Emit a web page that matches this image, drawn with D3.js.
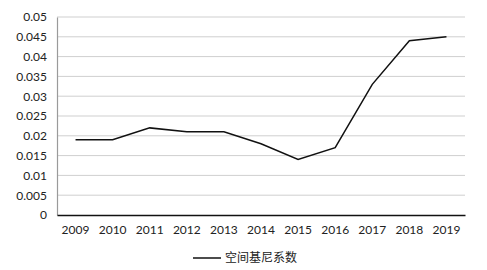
<!DOCTYPE html>
<html>
<head>
<meta charset="utf-8">
<script src="https://cdn.jsdelivr.net/npm/d3@7"></script>
<style>
  body { margin: 0; background: #fff; }
  text { font-family: Lato, "Noto Sans CJK SC", sans-serif; fill: #222; }
</style>
</head>
<body>
<div id="chart"></div>
<script>
var years = ['2009','2010','2011','2012','2013','2014','2015','2016','2017','2018','2019'];
var gini = [0.019, 0.019, 0.022, 0.021, 0.021, 0.018, 0.014, 0.017, 0.033, 0.044, 0.045];
var yTicks = [0, 0.005, 0.01, 0.015, 0.02, 0.025, 0.03, 0.035, 0.04, 0.045, 0.05];
var seriesName = '空间基尼系数';

var chart_width = 487, chart_height = 270;
var plotLeft = 57, plotRight = 465, plotTop = 17, plotBottom = 215;

var svg = d3.select('#chart').append('svg')
    .attr('width', chart_width)
    .attr('height', chart_height);

var x = d3.scaleBand().domain(years).range([plotLeft, plotRight]);
var y = d3.scaleLinear().domain([0, 0.05]).range([plotBottom, plotTop]);

// gridlines
svg.append('g')
  .selectAll('line')
  .data(yTicks.slice(1))
  .enter()
  .append('line')
  .attr('x1', plotLeft)
  .attr('x2', plotRight)
  .attr('y1', function(d){ return y(d); })
  .attr('y2', function(d){ return y(d); })
  .attr('stroke', '#cfcfcf')
  .attr('stroke-width', 1);

// y axis
var yAxis = svg.append('g')
  .attr('transform', 'translate(' + plotLeft + ',0)')
  .call(d3.axisLeft(y).tickValues(yTicks).tickSize(0).tickPadding(10)
    .tickFormat(function(d){ return String(+d.toFixed(3)); }));
yAxis.select('.domain').attr('stroke', '#9a9a9a').attr('stroke-width', 1.2);
yAxis.selectAll('text').attr('font-size', '12px');

// x axis
var xAxis = svg.append('g')
  .attr('transform', 'translate(0,' + plotBottom + ')')
  .call(d3.axisBottom(x).tickSize(0).tickPadding(10));
xAxis.select('.domain').attr('stroke', '#111').attr('stroke-width', 1.5);
xAxis.selectAll('text').attr('font-size', '12px');

// line
var line = d3.line()
  .x(function(d, i){ return x(years[i]) + x.bandwidth() / 2; })
  .y(function(d){ return y(d); });

svg.append('path')
  .datum(gini)
  .attr('d', line)
  .attr('fill', 'none')
  .attr('stroke', '#111')
  .attr('stroke-width', 1.5);

// legend
var legend = svg.append('g').attr('transform', 'translate(193,258)');
legend.append('line')
  .attr('x1', 0).attr('x2', 28)
  .attr('y1', 0).attr('y2', 0)
  .attr('stroke', '#111')
  .attr('stroke-width', 1.5);
legend.append('text')
  .attr('x', 32)
  .attr('y', 4)
  .attr('font-size', '12px')
  .text(seriesName);
</script>
</body>
</html>
